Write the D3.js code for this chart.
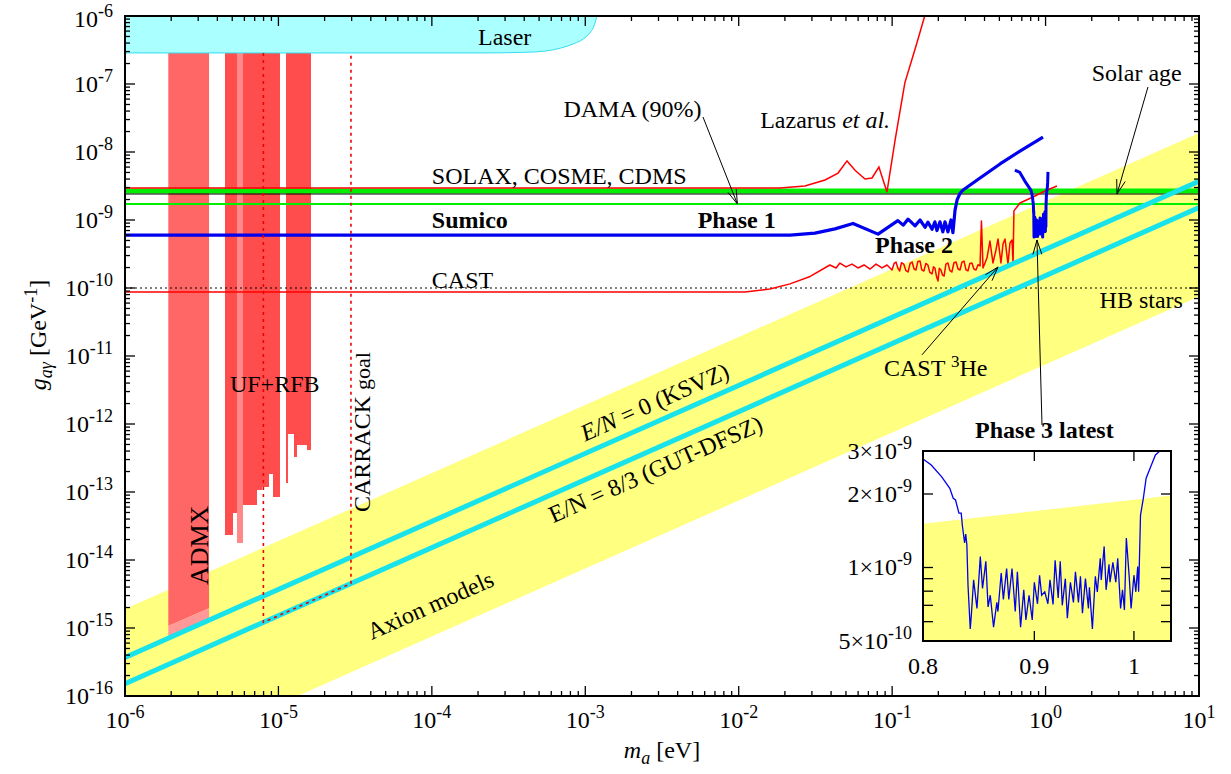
<!DOCTYPE html>
<html>
<head>
<meta charset="utf-8">
<title>Axion-photon coupling limits</title>
<script src="https://cdn.jsdelivr.net/npm/d3@7"></script>
<style>
  body { margin: 0; background: #fff; }
  svg text { font-family: "Liberation Serif", "Times New Roman", serif; font-size: 24px; fill: #000; }
  .bold { font-weight: bold; }
</style>
</head>
<body>
<div id="chart"></div>
<script>
// axis ranges (eV, GeV^-1)
var massRange = [1e-6, 10];
var couplingRange = [1e-16, 1e-6];
var massDecades = [-6, -5, -4, -3, -2, -1, 0, 1];
var couplingDecades = [-16, -15, -14, -13, -12, -11, -10, -9, -8, -7, -6];

// every curve is [mass, coupling]
var laser = [[1e-6, 2.86e-7], [2.0e-4, 2.86e-7], [4.0e-4, 2.92e-7], [5.5e-4, 3.05e-7], [7.0e-4, 3.4e-7],
             [8.5e-4, 3.95e-7], [9.7e-4, 4.6e-7], [1.08e-3, 5.8e-7], [1.15e-3, 7.5e-7], [1.19e-3, 1e-6]];

var admxMass = [1.915e-6, 3.53e-6];
var admxLimit = [1.07e-15, 1.95e-15];
var admxProjected = [7.06e-16, 1.31e-15];

var ufMassLo = [4.49e-6, 5.03e-6, 5.40e-6, 5.85e-6, 7.22e-6, 7.78e-6, 8.72e-6, 9.26e-6, 1.12e-5, 1.154e-5, 1.263e-5, 1.315e-5, 1.529e-5];
var ufMassHi = [5.03e-6, 5.40e-6, 5.85e-6, 7.22e-6, 7.78e-6, 8.72e-6, 9.26e-6, 1.024e-5, 1.154e-5, 1.263e-5, 1.315e-5, 1.529e-5, 1.631e-5];
var ufLimit  = [2.33e-14, 4.86e-14, 1.80e-14, 6.44e-14, 1.07e-13, 1.17e-13, 1.84e-13, 8.36e-14, 1.37e-13, 7.13e-13, 3.24e-13, 4.91e-13, 4.15e-13];
var ufPale   = [0, 0, 1, 0, 0, 0, 0, 0, 0, 0, 0, 0, 0];

var carrackMass = [7.98e-6, 2.97e-5];
var carrackGoal = [1.21e-15, 4.52e-15];
var laserFloor = 2.86e-7;

var lazarus = [[1e-6, 2.96e-9], [0.0186, 2.96e-9], [0.027, 3.16e-9], [0.0365, 3.87e-9], [0.0444, 4.9e-9],
               [0.0508, 7.4e-9], [0.0573, 5.4e-9], [0.0665, 4.0e-9], [0.0739, 4.15e-9], [0.082, 6.0e-9],
               [0.0925, 2.58e-9], [0.1045, 1.5e-8], [0.121, 1.04e-7], [0.145, 4.0e-7], [0.163, 1e-6]];

var solax = 2.67e-9, solarAge = 2.41e-9, dama = 1.72e-9, hbStars = 1e-10;

var cast = [[1e-6, 8.73e-11], [0.011, 8.73e-11], [0.016, 9.67e-11], [0.0216, 1.15e-10], [0.0292, 1.48e-10],
            [0.0393, 2.18e-10], [0.0431, 1.97e-10], [0.0457, 2.33e-10], [0.050, 2.04e-10], [0.0547, 2.25e-10],
            [0.0599, 1.97e-10], [0.0656, 2.18e-10], [0.0718, 1.90e-10], [0.0785, 2.25e-10], [0.0859, 1.97e-10],
            [0.0926, 2.18e-10], [0.0998, 1.84e-10], [0.103, 2.30e-10], [0.106, 2.41e-10], [0.109, 1.95e-10],
            [0.112, 1.78e-10], [0.115, 2.35e-10], [0.119, 2.25e-10], [0.123, 1.80e-10], [0.127, 1.72e-10],
            [0.131, 2.30e-10], [0.135, 2.41e-10], [0.139, 1.90e-10], [0.143, 1.84e-10], [0.147, 2.45e-10],
            [0.152, 2.49e-10], [0.156, 1.85e-10], [0.161, 1.78e-10], [0.166, 2.30e-10], [0.171, 2.18e-10],
            [0.176, 1.70e-10], [0.182, 1.61e-10], [0.186, 2.05e-10], [0.190, 1.97e-10], [0.195, 1.45e-10],
            [0.199, 1.27e-10], [0.203, 1.95e-10], [0.208, 1.84e-10], [0.213, 1.55e-10], [0.218, 1.50e-10],
            [0.224, 2.25e-10], [0.231, 2.33e-10], [0.238, 1.80e-10], [0.245, 1.72e-10], [0.253, 2.35e-10],
            [0.261, 2.41e-10], [0.269, 1.90e-10], [0.277, 1.84e-10], [0.285, 2.40e-10], [0.294, 2.49e-10],
            [0.303, 1.85e-10], [0.312, 1.78e-10], [0.321, 2.30e-10], [0.331, 2.33e-10], [0.341, 1.90e-10],
            [0.352, 1.84e-10], [0.363, 2.20e-10], [0.374, 2.11e-10], [0.382, 9.67e-10], [0.391, 1.97e-10],
            [0.415, 2.76e-10], [0.434, 4.91e-10], [0.454, 2.33e-10], [0.475, 3.62e-10], [0.490, 5.26e-10],
            [0.512, 2.33e-10], [0.528, 4.44e-10], [0.544, 5.26e-10], [0.569, 2.25e-10], [0.586, 4.59e-10],
            [0.604, 5.08e-10], [0.614, 2.33e-10], [0.622, 1.36e-9], [0.681, 1.78e-9], [0.828, 2.18e-9],
            [0.991, 2.67e-9], [1.186, 3.16e-9]];

var sumico = [[1e-6, 6.0e-10], [0.0216, 6.0e-10], [0.0314, 6.4e-10], [0.0424, 7.4e-10], [0.0556, 8.9e-10],
              [0.0809, 6.2e-10], [0.109, 9.8e-10], [0.118, 8.4e-10], [0.127, 1.03e-9], [0.141, 8.2e-10],
              [0.152, 1.0e-9], [0.164, 7.8e-10], [0.171, 9.3e-10], [0.182, 7.3e-10], [0.190, 9.4e-10],
              [0.196, 7.0e-10], [0.205, 9.4e-10], [0.214, 6.7e-10], [0.221, 9.4e-10], [0.231, 6.7e-10],
              [0.242, 1.0e-9], [0.249, 6.5e-10], [0.257, 1.4e-9], [0.265, 1.97e-9], [0.277, 2.47e-9],
              [0.290, 2.76e-9], [0.374, 4.15e-9], [0.505, 6.67e-9], [0.681, 1.03e-8], [0.962, 1.66e-8]];

// Sumico phase 3 (also the inset)
var phase3 = [[0.800, 2.78e-9], [0.807, 2.63e-9], [0.816, 2.35e-9], [0.823, 2.11e-9], [0.826, 1.92e-9],
              [0.828, 1.89e-9], [0.831, 1.67e-9], [0.833, 1.67e-9], [0.834, 1.49e-9], [0.836, 1.26e-9],
              [0.837, 1.37e-9], [0.838, 1.24e-9], [0.839, 8.5e-10], [0.841, 5.6e-10], [0.842, 6.4e-10],
              [0.844, 8.9e-10], [0.847, 6.8e-10], [0.850, 1.11e-9], [0.852, 8.2e-10], [0.855, 1.06e-9],
              [0.857, 6.9e-10], [0.859, 7.7e-10], [0.862, 5.7e-10], [0.865, 7.2e-10], [0.866, 6.6e-10],
              [0.869, 9.5e-10], [0.871, 7.4e-10], [0.874, 9.9e-10], [0.876, 7.4e-10], [0.879, 9.9e-10],
              [0.882, 6.6e-10], [0.884, 9.6e-10], [0.887, 5.7e-10], [0.890, 8.1e-10], [0.892, 6.1e-10],
              [0.895, 7.7e-10], [0.898, 6.1e-10], [0.900, 8.7e-10], [0.903, 7.1e-10], [0.905, 9.3e-10],
              [0.907, 7.7e-10], [0.910, 7.95e-10], [0.913, 7.1e-10], [0.915, 8.9e-10], [0.918, 7.06e-10],
              [0.920, 1.07e-9], [0.923, 7.5e-10], [0.925, 1.06e-9], [0.927, 7.0e-10], [0.930, 9.0e-10],
              [0.932, 6.2e-10], [0.935, 8.7e-10], [0.938, 7.2e-10], [0.940, 9.6e-10], [0.943, 7.2e-10],
              [0.945, 9.2e-10], [0.947, 6.5e-10], [0.950, 9.0e-10], [0.953, 6.8e-10], [0.954, 8.3e-10],
              [0.957, 5.6e-10], [0.960, 9.2e-10], [0.962, 7.95e-10], [0.965, 1.09e-9], [0.966, 8.9e-10],
              [0.969, 1.22e-9], [0.971, 8.1e-10], [0.974, 1.03e-9], [0.975, 8.7e-10], [0.978, 1.05e-9],
              [0.981, 8.7e-10], [0.983, 1.09e-9], [0.986, 6.8e-10], [0.988, 8.1e-10], [0.990, 6.7e-10],
              [0.992, 1.32e-9], [0.995, 9.2e-10], [0.997, 6.8e-10], [1.000, 9.3e-10], [1.002, 7.95e-10],
              [1.004, 1.01e-9], [1.005, 7.95e-10], [1.007, 1.64e-9], [1.010, 1.92e-9], [1.013, 2.32e-9],
              [1.018, 2.59e-9], [1.023, 2.89e-9], [1.027, 2.98e-9], [1.032, 3.6e-9]];
var phase3Lead = [[0.631, 5.4e-9], [0.68, 5.0e-9], [0.74, 3.6e-9]];
var phase3Tail = [[1.037, 5.1e-9]];

var ksvz = [[1e-6, 3.7e-16], [10, 3.7e-9]];
var dfsz = [[1e-6, 1.52e-16], [10, 1.52e-9]];
var bandTop = [[1e-6, 1.9e-15], [10, 1.9e-8]];
var bandBottom = [[1e-6, 7.5e-18], [10, 7.5e-11]];

// inset
var insetMass = [0.8, 1.04];
var insetCoupling = [5e-10, 3e-9];
var insetBandEdge = [[0.8, 1.51e-9], [1.04, 1.97e-9]];
var insetYTicks = [5e-10, 1e-9, 2e-9, 3e-9];
var insetYMant = ["5", "1", "2", "3"];
var insetYExp = ["-10", "-9", "-9", "-9"];
var insetYMinor = [6e-10, 7e-10, 8e-10, 9e-10];
var insetXTicks = [0.8, 0.9, 1.0];
var insetXLabels = ["0.8", "0.9", "1"];

// arrows [from, to]
var arrows = [
  [[5.85e-3, 3.27e-8], [9.8e-3, 1.72e-9]],
  [[4.65, 9.04e-8], [2.92, 2.41e-9]],
  [[0.1565, 1.04e-11], [0.49, 2.04e-10]],
  [[0.948, 9.66e-13], [0.879, 5.08e-10]]
];

var W = 1231, H = 774;
var pL = 125, pR = 1199, pT = 16, pB = 696;

var x = d3.scaleLog().domain(massRange).range([pL, pR]);
var y = d3.scaleLog().domain(couplingRange).range([pB, pT]);

var svg = d3.select("#chart").append("svg")
    .attr("width", W).attr("height", H);

svg.append("rect").attr("width", W).attr("height", H).attr("fill", "#fff");

var defs = svg.append("defs");
defs.append("clipPath").attr("id", "plotClip")
  .append("rect").attr("x", pL).attr("y", pT).attr("width", pR - pL).attr("height", pB - pT);

var line = d3.line().x(function(d) { return x(d[0]); }).y(function(d) { return y(d[1]); });

var g = svg.append("g").attr("clip-path", "url(#plotClip)");

// axion model band
g.append("path")
  .attr("d", line(bandTop.concat(bandBottom.slice().reverse())) + "Z")
  .attr("fill", "#ffff80");

// ADMX
g.append("path")
  .attr("d", line([[admxMass[0], 1e-6], [admxMass[1], 1e-6], [admxMass[1], admxLimit[1]], [admxMass[0], admxLimit[0]]]) + "Z")
  .attr("fill", "#ff6666");
g.append("path")
  .attr("d", line([[admxMass[0], admxLimit[0]], [admxMass[1], admxLimit[1]], [admxMass[1], admxProjected[1]], [admxMass[0], admxProjected[0]]]) + "Z")
  .attr("fill", "#ff9999");

// UF + RFB
g.selectAll("rect.uf")
  .data(ufLimit).enter()
  .append("rect")
  .attr("class", "uf")
  .attr("x", function(d, i) { return x(ufMassLo[i]); })
  .attr("width", function(d, i) { return x(ufMassHi[i]) - x(ufMassLo[i]); })
  .attr("y", y(1e-6))
  .attr("height", function(d) { return y(d) - y(1e-6); })
  .attr("fill", function(d, i) { return ufPale[i] ? "#ff8888" : "#ff4d4d"; })
  .attr("shape-rendering", "crispEdges");

// laser
g.append("path")
  .attr("d", d3.line().curve(d3.curveMonotoneX).x(function(d) { return x(d[0]); }).y(function(d) { return y(d[1]); })(laser)
        + "L" + x(laser[laser.length - 1][0]) + "," + y(1e-6) + "L" + x(1e-6) + "," + y(1e-6) + "Z")
  .attr("fill", "#aaffff")
  .attr("stroke", "#33ddee")
  .attr("stroke-width", 1);

// horizontal limits
function hline(v, color, w, dash) {
  var l = g.append("line")
    .attr("x1", pL).attr("x2", pR)
    .attr("y1", y(v)).attr("y2", y(v))
    .attr("stroke", color).attr("stroke-width", w);
  if (dash) l.attr("stroke-dasharray", dash);
}
hline(solax, "#00ee00", 5);
hline(dama, "#00ee00", 2);
hline(solarAge, "#000", 1);
hline(hbStars, "#000", 1, "2,3");

g.append("path").attr("d", line(lazarus)).attr("fill", "none").attr("stroke", "#ff0000").attr("stroke-width", 1.5);
g.append("path").attr("d", line(cast)).attr("fill", "none").attr("stroke", "#ff0000").attr("stroke-width", 1.5)
  .attr("stroke-linejoin", "round");
g.append("path").attr("d", line(sumico)).attr("fill", "none").attr("stroke", "#0000ee").attr("stroke-width", 3.2)
  .attr("stroke-linejoin", "round");
g.append("path").attr("d", line(phase3Lead.concat(phase3, phase3Tail))).attr("fill", "none")
  .attr("stroke", "#0000ee").attr("stroke-width", 3).attr("stroke-linejoin", "round");

// model lines
g.append("path").attr("d", line(ksvz)).attr("stroke", "#18e2ea").attr("stroke-width", 5).attr("fill", "none");
g.append("path").attr("d", line(dfsz)).attr("stroke", "#18e2ea").attr("stroke-width", 5).attr("fill", "none");

// CARRACK goal
g.append("path")
  .attr("d", line([[carrackMass[0], laserFloor], [carrackMass[0], carrackGoal[0]], [carrackMass[1], carrackGoal[1]], [carrackMass[1], laserFloor]]))
  .attr("fill", "none").attr("stroke", "#ee0000").attr("stroke-width", 1.6).attr("stroke-dasharray", "3,4");

// labels
function label(t, m, c, opts) {
  opts = opts || {};
  var el = svg.append("text")
    .attr("x", x(m)).attr("y", y(c))
    .attr("text-anchor", opts.anchor || "start");
  if (opts.bold) el.attr("class", "bold");
  if (opts.rotate !== undefined) {
    el.attr("x", null).attr("y", null)
      .attr("transform", "translate(" + x(m) + "," + y(c) + ") rotate(" + opts.rotate + ")");
  }
  if (typeof t === "string") el.text(t);
  else t(el);
  return el;
}

var slope = -Math.atan((y(1e-15) - y(1e-14)) / (x(1e-5) - x(1e-6))) * 180 / Math.PI;

label("Laser", 2.0e-4, 3.75e-7);
label("DAMA (90%)", 7.2e-4, 3.27e-8);
label(function(el) {
  el.append("tspan").text("Lazarus ");
  el.append("tspan").attr("font-style", "italic").text("et al.");
}, 0.0138, 2.25e-8);
label("SOLAX, COSME, CDMS", 1.0e-4, 3.39e-9);
label("Sumico", 1.0e-4, 7.6e-10, {bold: true});
label("Phase 1", 5.4e-3, 7.6e-10, {bold: true});
label("Phase 2", 0.0773, 3.27e-10, {bold: true});
label("CAST", 1.0e-4, 1.0e-10);
label("HB stars", 7.86, 5.08e-11, {anchor: "end"});
label("Solar age", 2.0, 1.11e-7);
label(function(el) {
  el.append("tspan").text("CAST ");
  el.append("tspan").attr("font-size", "17px").attr("dy", -9).text("3");
  el.append("tspan").attr("dy", 9).text("He");
}, 0.0885, 5.09e-12);
label("Phase 3 latest", 0.347, 6.22e-13, {bold: true});
label("UF+RFB", 4.83e-6, 2.95e-12);
label("ADMX", 3.47e-6, 4.28e-15, {rotate: -90}).style("font-size", "26px");
label(function(el) {
  el.append("tspan").text("CARRACK ");
  el.append("tspan").attr("font-size", "22px").text("goal");
}, 3.95e-5, 5.08e-14, {rotate: -90});
label(function(el) {
  el.append("tspan").attr("font-style", "italic").text("E/N");
  el.append("tspan").text(" = 0 (KSVZ)");
}, 9.96e-4, 5.5e-13, {rotate: slope});
label("E/N = 8/3 (GUT-DFSZ)", 6.19e-4, 3.47e-14, {rotate: slope});
label("Axion models", 4.06e-5, 6.67e-16, {rotate: slope});

// arrows
arrows.forEach(function(a) {
  var x0 = x(a[0][0]), y0 = y(a[0][1]), x1 = x(a[1][0]), y1 = y(a[1][1]);
  var ang = Math.atan2(y1 - y0, x1 - x0), L = 15, s = 0.3;
  var d = "M" + x0 + "," + y0 + "L" + x1 + "," + y1 +
          "M" + (x1 - L * Math.cos(ang - s)) + "," + (y1 - L * Math.sin(ang - s)) +
          "L" + x1 + "," + y1 +
          "L" + (x1 - L * Math.cos(ang + s)) + "," + (y1 - L * Math.sin(ang + s));
  svg.append("path").attr("d", d).attr("fill", "none").attr("stroke", "#000").attr("stroke-width", 1);
});

// frame and ticks
var ticks = svg.append("g").attr("stroke", "#000").attr("stroke-width", 1.3);
massDecades.forEach(function(p) {
  for (var j = 1; j < 10; j++) {
    var v = j * Math.pow(10, p);
    if (v < massRange[0] || v > massRange[1] * 1.0001) continue;
    var len = j === 1 ? 10 : 5, xx = x(v);
    ticks.append("line").attr("x1", xx).attr("x2", xx).attr("y1", pB).attr("y2", pB - len);
    ticks.append("line").attr("x1", xx).attr("x2", xx).attr("y1", pT).attr("y2", pT + len);
  }
});
couplingDecades.forEach(function(p) {
  for (var j = 1; j < 10; j++) {
    var v = j * Math.pow(10, p);
    if (v < couplingRange[0] || v > couplingRange[1] * 1.0001) continue;
    var len = j === 1 ? 10 : 5, yy = y(v);
    ticks.append("line").attr("x1", pL).attr("x2", pL + len).attr("y1", yy).attr("y2", yy);
    ticks.append("line").attr("x1", pR).attr("x2", pR - len).attr("y1", yy).attr("y2", yy);
  }
});
svg.append("rect").attr("x", pL).attr("y", pT).attr("width", pR - pL).attr("height", pB - pT)
  .attr("fill", "none").attr("stroke", "#000").attr("stroke-width", 2);

function powLabel(el, base, exp) {
  el.append("tspan").text(base);
  el.append("tspan").attr("font-size", "18px").attr("dy", -10).text(exp);
}
massDecades.forEach(function(p) {
  var t = svg.append("text").attr("x", x(Math.pow(10, p))).attr("y", 728).attr("text-anchor", "middle");
  powLabel(t, "10", String(p));
});
couplingDecades.forEach(function(p) {
  var t = svg.append("text").attr("x", 113).attr("y", Math.max(y(Math.pow(10, p)) + 8, 27)).attr("text-anchor", "end");
  powLabel(t, "10", String(p));
});

// axis titles
var xt = svg.append("text").attr("x", 662).attr("y", 758).attr("text-anchor", "middle");
xt.append("tspan").attr("font-style", "italic").text("m");
xt.append("tspan").attr("font-style", "italic").attr("font-size", "18px").attr("dy", 6).text("a");
xt.append("tspan").attr("dy", -6).text(" [eV]");

var yt = svg.append("text").attr("transform", "translate(46,335) rotate(-90)").attr("text-anchor", "middle");
yt.append("tspan").attr("font-style", "italic").text("g");
yt.append("tspan").attr("font-style", "italic").attr("font-size", "18px").attr("dy", 6).text("aγ");
yt.append("tspan").attr("dy", -6).text(" [GeV");
yt.append("tspan").attr("font-size", "18px").attr("dy", -9).text("-1");
yt.append("tspan").attr("dy", 9).text("]");

// inset
var iL = 923, iR = 1171, iT = 451, iB = 641;
var ix = d3.scaleLog().domain(insetMass).range([iL, iR]);
var iy = d3.scaleLog().domain(insetCoupling).range([iB, iT]);
var iline = d3.line().x(function(d) { return ix(d[0]); }).y(function(d) { return iy(d[1]); });

defs.append("clipPath").attr("id", "insetClip")
  .append("rect").attr("x", iL).attr("y", iT).attr("width", iR - iL).attr("height", iB - iT);

var ins = svg.append("g");
ins.append("rect").attr("x", iL).attr("y", iT).attr("width", iR - iL).attr("height", iB - iT).attr("fill", "#fff");
var ic = ins.append("g").attr("clip-path", "url(#insetClip)");
ic.append("path")
  .attr("d", iline(insetBandEdge) + "L" + iR + "," + iB + "L" + iL + "," + iB + "Z")
  .attr("fill", "#ffff80");
ic.append("path").attr("d", iline(phase3)).attr("fill", "none").attr("stroke", "#0000ee").attr("stroke-width", 1.3);

var iticks = ins.append("g").attr("stroke", "#000").attr("stroke-width", 1.3);
insetYTicks.concat(insetYMinor).forEach(function(v) {
  iticks.append("line").attr("x1", iL).attr("x2", iL + 10).attr("y1", iy(v)).attr("y2", iy(v));
  iticks.append("line").attr("x1", iR).attr("x2", iR - 10).attr("y1", iy(v)).attr("y2", iy(v));
});
insetXTicks.forEach(function(v) {
  iticks.append("line").attr("x1", ix(v)).attr("x2", ix(v)).attr("y1", iB).attr("y2", iB - 10);
  iticks.append("line").attr("x1", ix(v)).attr("x2", ix(v)).attr("y1", iT).attr("y2", iT + 10);
});
ins.append("rect").attr("x", iL).attr("y", iT).attr("width", iR - iL).attr("height", iB - iT)
  .attr("fill", "none").attr("stroke", "#000").attr("stroke-width", 2);

insetYTicks.forEach(function(v, i) {
  var t = ins.append("text").attr("x", 912).attr("y", iy(v) + 8).attr("text-anchor", "end");
  t.append("tspan").text(insetYMant[i] + "×10");
  t.append("tspan").attr("font-size", "18px").attr("dy", -10).text(insetYExp[i]);
});
insetXTicks.forEach(function(v, i) {
  ins.append("text").attr("x", ix(v)).attr("y", 674).attr("text-anchor", "middle").text(insetXLabels[i]);
});
</script>
</body>
</html>
